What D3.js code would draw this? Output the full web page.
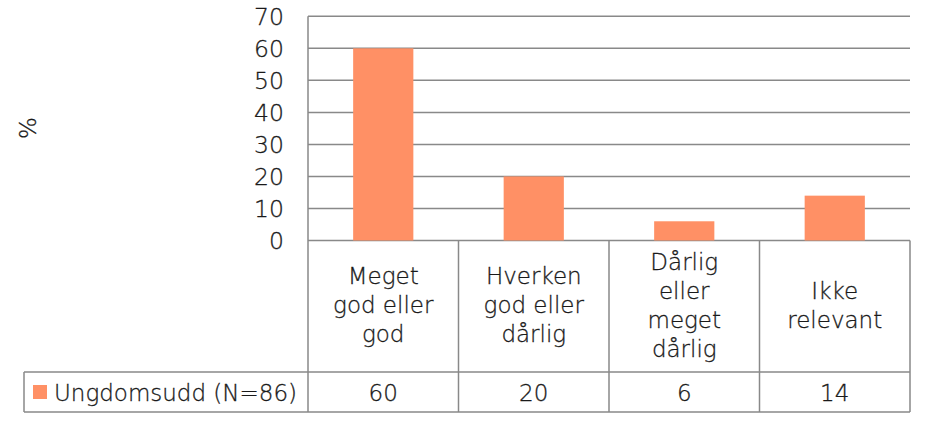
<!DOCTYPE html>
<html><head><meta charset="utf-8">
<script src="https://cdn.jsdelivr.net/npm/d3@7"></script>
<style>
html,body{margin:0;padding:0;background:#fff;}
svg text{font-family:"DejaVu Sans",sans-serif;font-weight:300;fill:#1a1a1a;stroke:#1a1a1a;stroke-width:0.3px;}
</style></head>
<body><svg id="c" width="932" height="422"></svg>
<script>
const categories = [["Meget","god eller","god"],["Hverken","god eller","dårlig"],["Dårlig","eller","meget","dårlig"],["Ikke","relevant"]];
const seriesName = "Ungdomsudd (N=86)";
const values = [60, 20, 6, 14];
const yTicks = [0,10,20,30,40,50,60,70];
const yLabel = "%";

const svg = d3.select("#c");
const L = 308, R = 910, T = 16.3, B = 240.5, rowMid = 372, rowBot = 412, legL = 24;
const keys = categories.map((c,i)=>i);
const x = d3.scaleBand().domain(keys).range([L,R]).padding(0);
const y = d3.scaleLinear().domain([0,70]).range([B,T]);
const grid = "#898989";

// gridlines
svg.append("g").selectAll("line").data(yTicks).join("line")
  .attr("x1",L).attr("x2",R).attr("y1",d=>y(d)).attr("y2",d=>y(d))
  .attr("stroke",grid).attr("stroke-width",1.5);

// y axis tick labels
const yAxis = d3.axisLeft(y).tickValues(yTicks).tickSize(0).tickPadding(24);
const ga = svg.append("g").attr("transform",`translate(${L},0)`).call(yAxis);
ga.select(".domain").remove();
ga.selectAll("text").attr("font-size",23.5).attr("fill","#1a1a1a")
  .style("font-family",'"DejaVu Sans",sans-serif').attr("dy","0.36em");

// bars
const bw = x.bandwidth()*0.4;
svg.append("g").selectAll("rect").data(values).join("rect")
  .attr("x",(d,i)=>x(i)+(x.bandwidth()-bw)/2).attr("width",bw)
  .attr("y",d=>y(d)).attr("height",d=>y(0)-y(d))
  .attr("fill","#FF9065");

// table lines
const tl = svg.append("g").attr("stroke",grid).attr("stroke-width",1.5);
tl.append("line").attr("x1",L).attr("x2",L).attr("y1",T).attr("y2",rowBot);
keys.forEach(i=>{
  const xe = x(i)+x.bandwidth();
  tl.append("line").attr("x1",xe).attr("x2",xe).attr("y1",B).attr("y2",rowBot);
});
tl.append("line").attr("x1",legL).attr("x2",R).attr("y1",rowMid).attr("y2",rowMid);
tl.append("line").attr("x1",legL).attr("x2",R).attr("y1",rowBot).attr("y2",rowBot);
tl.append("line").attr("x1",legL).attr("x2",legL).attr("y1",rowMid).attr("y2",rowBot);

// category labels
const lh = 29, catMid = (B+rowMid)/2 + 7;
keys.forEach(i=>{
  const lines = categories[i];
  const t = svg.append("text").attr("text-anchor","middle").attr("font-size",23);
  lines.forEach((ln,j)=>{
    t.append("tspan").attr("x",x(i)+x.bandwidth()/2)
      .attr("y",catMid + (j-(lines.length-1)/2)*lh).text(ln);
  });
});

// value row
svg.append("g").selectAll("text").data(values).join("text")
  .attr("x",(d,i)=>x(i)+x.bandwidth()/2).attr("y",400.5)
  .attr("text-anchor","middle").attr("font-size",23).text(d=>d);

// legend
svg.append("rect").attr("x",33).attr("y",385).attr("width",14).attr("height",14).attr("fill","#FF9065");
svg.append("text").attr("x",54).attr("y",400.5).attr("font-size",23).text(seriesName);

// y label
svg.append("text").attr("transform","translate(36,128) rotate(-90)")
  .attr("text-anchor","middle").attr("font-size",23).text(yLabel);
</script></body></html>
